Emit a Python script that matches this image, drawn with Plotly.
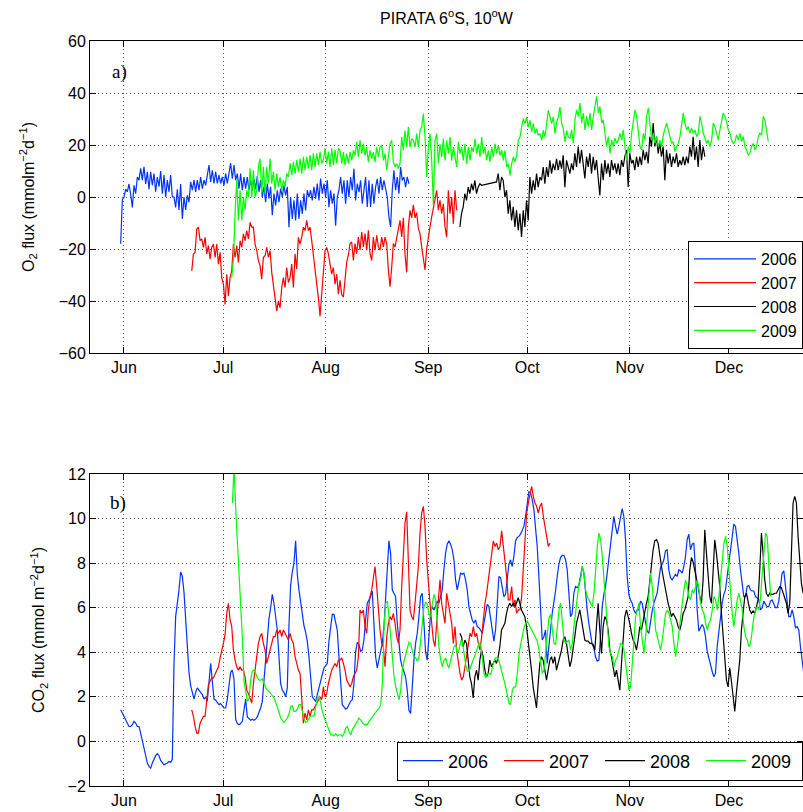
import numpy as np
import pandas as pd
import plotly.graph_objects as go

# ---------------- data ----------------
BASE = "2001-06-01"          # common reference year; only month/day shown
STEP_DAYS = 0.504

years = ["2006", "2007", "2008", "2009"]
colors = ["#0033ff", "#ff0000", "#000000", "#00ff00"]
month_labels = ["Jun", "Jul", "Aug", "Sep", "Oct", "Nov", "Dec"]

# ---- O2 flux (panel a), start = days after 1 Jun ----
o2_2006_start = -1.0
o2_2006 = [-18, -1, 0, 3, 2, 5, 1, -4, 4.5, 1.3, 7.7, 6.5, 11, 6.5, 11.6, 5, 9.7, 3, 9.7, 4.5,
           9, 2, 7.7, 4, 10, 1.3, 8.4, 0, 6.5, 2, 8.4, 0, 0, -4, 3, -5, 5, -8.4, 0, -5,
           0.6, -2, 5.8, 2.6, 6.5, 2, 6.5, 2.6, 7.7, 3.2, 6.5, 4.5, 8.4, 12.3, 5.8, 10.3, 5.2, 9.7, 5.2, 8.4,
           5.2, 7.7, 4.5, 9, 5.2, 9, 13, 7, 12.3, 6.5, 9, 3.2, 9, 2.6, 7.7, 3.2, 7.7, 2.6, 6.5, 2.6,
           7, 3, 8, 2, 6.5, 0, 3.9, -2, 5.2, -0.6, 3.9, -7, 1.3, -3.2, 2.6, -2, 3.2, 0, 4.5, 0.6,
           3.9, -11.6, 0, -8.4, -1.3, -9, 1.3, -8.4, -1.3, -6.5, 1.3, -5.2, 2.6, 0, 2.6, -1.3, 3.9, -0.6, 5.2, -1.3,
           7.1, 1.3, 5.2, 0, 6.5, -3.9, 2.6, -2.6, 1.3, -11, 0,
           2.6, 7.7, 1.3, 6.4, -2.6, 6.4, 0, 7.7, 2.6, 10.9, -1.3, 5.1, 1.9, 6.4, -2.6, 3.8, 7.7, -3.8, 6.4, -3.8,
           5.1, -2.6, 3.8, 7, 1.3, 7.7, 2.6, 6.4, 3.8, 0, -7.7, -11.5, 2.6, 10.3, 2.6, 7.7, 1.3, 11.5, 6.4, 7.7,
           3.8, 7.7, 5.1]

o2_2007_start = 20.5
o2_2007 = [-28.4, -21.9, -21.3, -12.3, -11.6, -16.8, -16.1, -19.4, -15.5, -21.9, -18.7, -23.9, -19.4, -18.1,
           -23.2, -18.1, -25.8, -21.3, -31, -33.5, -41.3, -29.7, -38.1, -31, -28.4, -18.1, -23.2, -18.7, -25.2,
           -16.8, -19.4, -14.2, -16.8, -12.9, -16.1, -9.7, -11.6, -11.6, -18.1, -20.6, -24.5, -26.5, -31.6, -23.2,
           -22.6, -19.4, -23.2, -20.6, -29, -33.5, -38.7, -43.9, -40, -42.6, -34.8, -31, -34.8, -27.1, -32.9, -31,
           -25.8, -34.8, -21.9, -27.7, -15.5, -18.1, -15.5, -11.6, -12.9, -9, -12.9, -11.6, -16.8, -23.2, -28.4,
           -33.5, -38.7, -45.8, -37.4, -27.1, -20.6, -19.4, -21.9, -25.8, -29.7, -27.1, -33.5, -29.7, -37.4,
           -32, -37.5, -38.5, -30, -25, -22.4, -17.9, -17.3, -24.4, -17.9, -21.8, -15.4, -20.5, -13.5, -19.2,
           -14.1, -20.5, -12.8, -21.8, -24.4, -15.4, -20.5, -14.7, -19.2, -20.5, -15.4, -19.2, -15.4, -17.9, -28,
           -34.5, -27, -17.9, -19.2, -15.4, -11.5, -9, -15.4, -8, -22, -29, -11.5, -5.1, -8, -3, -8, -6, -12,
           -14.1, -19.2, -24.4, -28, -20, -15, -11.5, -7.7, -3.8, -1.3, 2.6, -5.1, -1.3, -6.4, -2.6, -11.5, -15.4,
           2.6, -6.4, 0, -10.3, 2.6, -5.1]

o2_2008_a_start = 101.6
o2_2008_a = [-11.5, -6.4, -3.8, 1.3, -1.3, 3.8, 1.3, 5.1, 2.6, 6.4, 1.3, 3.8, 5.1, 4.5]
o2_2008_b_start = 112.7
o2_2008_b = [5.8, 9, 2.6, 7.7, 6.4, 0, 2.6, -6.4, -1.3, -9, -3.8, -11.5, -5.1, -12.8, -6.4, -15.4, -5.1, -11.5,
             -1.3, -9, 7.7, 1.3, 6.4, 2.6, 9, 3.8, 7.7, 6.4, 11.5, 5.1, 11.5, 7.7, 14.1, 9, 12.8, 10.3, 14.7, 10.3,
             14.1, 10.9, 16, 3.8, 14.1, 11.5,
             9, 12.9, 10.3, 16.8, 11.6, 19.4, 12.9, 18.1, 11.6, 7.1, 15.5, 11.6, 16.8, 9, 15.5, 10.3, 14.2, 6.5,
             0.6, 12.9, 6.5, 14.2, 9, 12.9, 7.7, 14.2, 10.3, 12.9, 9, 12.9, 8.4, 14.2, 11.6, 15.5, 18.1, 3.9, 16.8,
             12.9, 14.2, 10.3, 15.5, 11.6, 15.5, 12.3, 18.1, 14.2, 17.4, 12.9, 23.2, 19.4, 28.4, 19.4, 23.2, 16.8,
             20.6, 15.5, 19.4, 6.5, 18.1, 12.9, 16.8, 11.6, 15.5, 12.9, 16.8, 11.6, 14.2, 12.3, 15.5, 12.3, 15.5,
             12.9, 19.4, 15.5, 23.2, 14.2, 19.4, 11.6, 21.9, 14.2, 19.4, 15.5]

o2_2009_start = 32.6
o2_2009 = [-31, -24, -6, 6.5, -9, 2.6, -9, 0, -5, 2.6, 0, 11, 0, 10.3, 0, 2.6, 11.6, 14.8, 1.3, 11.6, 1.3,
           11.6, 5.2, 14.8, 5.2, 9.7, 2.6, 9, 3.9, 7.7, 2.6, 6.5, 3.9, 9, 7.7, 13, 8.4, 13.5, 9, 14.2, 9.7, 14.8,
           9, 15.5, 10.3, 15.5, 11, 16.1, 10.3, 16.8, 11.6, 16.8, 12.3, 17.4, 12.9, 14.2, 18.7, 12.9, 17.4, 11.6,
           18.7, 12.3, 18.1, 12.9, 18.7,
           17.9, 12.8, 17.3, 12.2, 16.7, 12.8, 17.3, 14.1, 17.9, 16, 21.2, 15.4, 21.8, 16.7, 20.5, 16, 19.2, 13.5,
           17.9, 14.7, 17.3, 13.5, 19.2, 15.4, 19.2, 19.9, 14.1, 16.7, 10.3, 15.4, 20.5, 21.8, 13.5, 11.5, 12.8,
           10.9, 12.8, 23.1, 17.9, 25.6, 19.2, 26.9, 19.2, 22.4, 21.8, 19.2, 24.4, 19.2, 25.6, 26.9, 32.1, 23.1,
           7.7, 19.2, 24.4, 14.1, -3.2, 21.8, 24.4, 12.8, 20.5, 15.4, 22.4, 14.1, 21.8, 16.7, 23.1, 14.1, 19.2,
           15.4, 11.5, 21.2, 16.7, 19.2, 14.1, 20.5, 12.8, 19.2, 14.1, 19.2, 17.3, 22.4, 16.7, 20.5, 15.4, 23.1,
           16.7, 19.2, 14.1, 17.9, 13.5, 19.2, 15.4, 20.5, 16.7, 19.9, 16, 17.9, 14.1, 17.9, 11.5, 12.8, 8.3,
           12.8, 15.4, 13.5, 16, 21.8, 23.1, 26.9, 30.1, 28.2, 30.8, 26.9, 29.5, 25, 28.2, 24.4, 26.3, 23.7, 24.4,
           21.8, 25.6, 23.1, 28.2, 33.3, 30.8, 28.2, 30.8, 24.4, 28.8, 30.8, 34.6, 28.2, 26.3, 21.2, 25.6, 23.1,
           22.6, 25.8, 20.6, 29.7, 33.5, 31, 36.1, 28.4, 32.3, 25.8, 31, 27.1, 32.3, 25.8, 31, 34.8, 38.7, 32.3,
           34.8, 28.4, 29.7, 24.5, 19.4, 23.2, 16.8, 21.9, 19.4, 22.6, 20.6, 21.9, 24.5, 21.9, 25.8, 19.4, 14.2,
           19.4, 16.8, 24.5, 29.7, 33.5, 31, 25.8, 19.4, 18.1, 24.5, 21.9, 31, 34.2, 28.4, 21.9, 24.5, 20.6, 23.2,
           19.4, 21.9, 19.4, 23.9, 25.8, 28.4, 25.8, 23.2, 20.6, 21.3, 17.4, 19.4, 20.6, 23.2, 27.1, 32.3, 28.4,
           25.8, 27.1, 24.5, 26.5, 24.5, 25.8, 23.2, 24.5, 31, 28.4, 24.5, 22.6, 20.6, 21.9, 19.4, 21.9, 28.4,
           27.1, 24.5, 21.9, 25.8, 29.7, 32.3, 31, 29, 25.8, 24.5, 21.9, 20.6, 21.3, 23.9, 21.9, 24.5, 21.3, 23.2,
           19.4, 18.1, 16.1, 16.8, 19.4, 20.6, 18.1, 19.4, 23.2, 24.5, 23.9, 31, 29.7, 25.8, 21.3]

# ---- CO2 flux (panel b) ----
co2_2006_start = -1.0
co2_2006 = [1.42, 1.27, 1.12, 0.9, 0.75, 0.67, 0.67, 0.75, 0.9, 0.82, 0.67, 0.67, 0.37, 0, -0.3, -0.67, -0.97,
            -1.12, -1.2, -0.97, -0.8, -0.64, -0.55, -0.64, -0.85, -0.94, -1.05, -1, -0.97, -0.9, -0.94, -0.8, 3.5,
            5.6, 6.1, 6.8, 7.6, 7.4, 6.7, 5.2, 4.3, 3.1, 2.5, 2.2, 1.9, 2.2, 2.4, 2.3, 2.2, 2.1, 1.9, 2, 1.8, 2.6,
            3.5, 2.7, 1.9, 1.85, 1.75, 1.65, 1.7, 1.6, 1.5, 1.5, 1.9, 2.5, 3.1, 3.2, 2.8, 1.0, 0.8, 0.75, 0.8, 0.9,
            1.5, 1.9, 1.1, 1.0, 0.95, 1.0, 0.95, 1.0, 1.1, 1.3, 1.5, 1.8, 2.7, 3.8, 4.4, 5.5, 6.0, 6.6, 6.2, 5.6,
            5.0, 3.8, 2.6, 2.3, 2.2, 2.0, 2.4, 5.2, 7.0, 7.6, 8.0, 9.0, 7.5, 6.8, 6.2, 5.7, 5.2, 4.9, 4.5, 3.8,
            2.7, 2.0, 1.9, 1.8, 2.1, 2.4, 2.7, 3.0, 3.3, 3.4, 3.5, 4.5, 5.2, 5.7, 5.7, 5.4, 5.0,
            3.8, 2.5, 1.65, 1.55, 1.45, 1.5, 1.65, 1.8, 1.87, 2.6, 4, 4.45, 4.35, 4.05, 4.1, 4.55, 5.45, 6.2, 6.35,
            6.5, 6.75, 5.45, 3.8, 3.3, 3.65, 3.9, 4.4, 5.15, 6.65, 7.7, 9.0, 8.45, 6.8, 6.65, 6.5, 5.3, 4.4, 3.65,
            3.35, 3.15, 2.9, 2.3, 1.4, 1.25, 2.5, 3.65, 4.4, 4.85, 5.6, 6.5, 6.65, 5.3, 4, 3.65, 4.7, 5.75, 6.05,
            5.9, 6.05, 6.3, 6.2, 6.5, 6.8, 7.7, 8.45, 8.85, 9, 8.85, 8.6, 8.15, 7.25, 6.8, 7.25, 7.55, 7.5, 7.55,
            7.25, 6.8, 6.05, 5.75, 5.45, 5.3, 5.45, 5.15, 5.1, 5, 4.85, 5.3, 5.75, 6.15, 6.05, 5.6, 5, 4.5, 5, 6.5,
            7.4, 7.35, 6.95, 6.5, 6.6, 7.25, 7.95, 8.15, 7.85, 8.3, 9, 9.15, 9.2, 9.3, 9.45, 9.65, 10.1, 10.7,
            11.2, 11.15, 10.85, 10.4, 9.65, 8.75, 7.4, 5.9, 4.55, 4.7, 5, 3.5, 4.4, 5, 5.75, 6.2, 6.75, 7.4, 7.95,
            8.25, 8.35, 8.35, 8.15, 7.7, 6.5,
            5.6, 5.75, 6.65, 6.95, 6.9, 7, 7.5, 7.85, 7.55, 6.5, 5.9, 5.3, 4.8, 4.35, 4.2, 3.8, 3.6, 3.65, 4.7,
            6.05, 6.6, 6.95, 7.55, 8.15, 8.75, 9.5, 10.1, 9.65, 9.3, 9.65, 10.1, 10.45, 10.1, 9.05, 7.4, 6.6, 6.35,
            6.2, 5.9, 5.75, 5.9, 5.9, 6.3, 6.2, 5.75, 5.3, 4.95, 4.85, 5.45, 5.85, 6.2, 6.45, 6.65, 7.25, 7.8,
            7.95, 8.15, 8.55, 8.6, 7.7, 7.35, 7.25, 7.4, 7.5, 7.4, 7.7, 7.65, 7.55, 7.85, 8.3, 9.05, 9.3, 8.6,
            8.85, 8.9, 7.7, 5.9, 4.95, 5.1, 5.25, 5.1, 4.7, 4.05, 3.75, 3.35, 3.15, 2.9, 3.05, 4.25, 5, 5.6, 6.2,
            6.6, 6.8, 7.4, 8, 8.7, 9.35, 9.75, 9.65, 9.15, 8.45, 7.7, 7.1, 6.5, 6.5, 6.95, 7, 6.8, 6.75, 6.75,
            6.5, 6.45, 6.35, 5.9, 6, 6.3, 6.15, 6.05, 6.05, 6.3, 6.35, 6.15, 6, 6, 6.3, 6.95, 7.55, 7.65, 6.95,
            6.2, 5.6, 5.6, 5.9, 5.6, 5.1, 5.15, 5, 4.25, 3.5, 3.05]

co2_2007_start = 20.5
co2_2007 = [1.42, 1.12, 0.67, 0.37, 0.37, 0.82, 0.97, 1.12, 1.12, 2.0, 2.55, 2.7, 2.85, 2.85, 3, 3.15, 3.35,
            3.75, 4.05, 4.4, 4.8, 5.75, 6.2, 5.45, 5.15, 4.1, 3.65, 3.35, 3.2, 3.35, 3.2, 3.2, 2.9, 2.3, 2.15,
            1.87, 1.72, 2.6, 3.2, 3.8, 4.4, 4.7, 4.85, 4.4, 4.1, 3.5, 3.8, 4.1, 4.4, 4.7, 4.7, 5, 4.85, 5, 4.7, 5,
            4.85, 4.7, 4.55, 4.85, 4.55, 4.4, 3.8, 3.5, 3.2, 3.05, 2, 0.82, 1.27, 0.97, 1.42, 1.12, 1.42, 1.42,
            1.57, 1.72, 1.87, 2, 1.87, 2.45, 2, 2.15, 2.6, 2.9, 3.2, 3.35, 3.5, 3.35, 3.65,
            3.65, 3.75, 3.5, 3.2, 2.75, 2.6, 2.45, 2.6, 2.9, 3.05, 3.2, 3.8, 5.9, 5.75, 5.9, 5.15, 4.85, 5.9, 6.5,
            6.8, 7.4, 7.85, 6.95, 5.9, 5, 4.4, 4.25, 3.35, 4.7, 5.3, 5.6, 5.45, 5.75, 5.3, 4.7, 4.4, 5, 6.95, 8.45,
            9.8, 10.3, 7.7, 5.9, 5.6, 5.45, 6.2, 6.95, 7.85, 9.35, 10.25, 10.55, 9.65, 8.15, 6.95, 6.2, 5.3, 4.55,
            4.25, 5.45, 6.35, 7.25, 6.2, 5.75, 5.3, 6.65, 6.2, 5.75, 5.3, 4.4, 5.15, 4.1, 3.5, 3.05, 2.75, 2.9,
            3.35, 3.8, 4.4, 4.85, 4.7, 5.15, 4.7, 4.85, 4.4, 4.1, 4.7, 5.6, 6.2, 6.65, 7.25, 7.7, 8.3, 9, 8.75,
            8.9, 8.6, 8.75, 9.45, 8.75, 8.3, 7.4, 6.35, 6.35, 6.95, 6.05, 6.35, 5.75, 5.9, 5.9, 6.5, 7.7, 9.2,
            10.25, 10.7, 11.15, 11.45, 11, 10.7, 10.55, 10.25, 10.55, 10.7, 10.1, 9.65, 9.05, 8.75, 8.9]

co2_2008_start = 101.6
co2_2008 = [4.85, 4.7, 4.25, 4.55, 4.4, 3.5, 2.9, 2.6, 1.95, 2.9, 3.2, 2.75, 3.65, 4.1, 3.8, 3.2, 2.9, 3.05,
            3.65, 3.35, 3.5, 3.65, 3.5, 3.8, 4.25, 5, 5.15, 5.3, 5.75, 6.05, 6.2, 6.05, 6.2, 6.05, 6.2, 6.45, 6.2,
            5.9, 5.75, 5.6, 5.15, 4.55, 3.95, 3.2, 2.45, 1.87, 1.5, 2.6, 3.5, 3.8, 3.65, 3.2, 2.75, 3.2, 3.65,
            3.8, 3.5, 3.8, 3.2, 3.5, 3.8, 4.1, 4.55, 4.7, 4.4, 3.8,
            3.35, 3.65, 4.1, 4.7, 5.3, 5.6, 5.9, 5.45, 5, 4.55, 4.5, 4.5, 4.4, 4.4, 4.35, 4.1, 5.15, 6.2, 5, 3.95,
            5.15, 5.6, 5.45, 5, 4.1, 3.8, 3.35, 2.9, 3.2, 2.75, 2.3, 3.5, 4.7, 5.6, 5.9, 5.6, 5.3, 4.85, 4.55,
            4.4, 4.1, 4.55, 5.15, 5, 5.45, 5.9, 6.2, 6.5, 7.25, 8.15, 8.6, 9, 9.05, 8.9, 8.3, 7.85, 7.4, 6.95,
            6.5, 6.2, 5.9, 5.6, 5.75, 5.6, 5.45, 5.15, 5, 5.3, 5.75, 5.9, 6.2, 6.5, 7.7, 8.25, 8.05, 7.7, 7.4,
            6.95, 6.5, 6.2, 7.25, 9.5, 8.45, 7.55, 6.5, 6.2, 7.7, 9.05, 8.45, 7.7, 6.95, 5.75, 4.7, 3.35, 2.75,
            2.45, 3.3, 2.7, 1.9, 1.35, 2.2, 2.9, 3.65, 5, 5.75, 6.5, 6.65, 6.2, 5.9, 5.75, 5.85, 5.75, 6.05, 6.35,
            7.7, 9.35, 8.45, 7.25, 6.65, 6.5, 6.65, 6.6, 6.6, 6.65, 6.65, 6.8, 6.95, 6.9, 6.65, 6.5, 6.2, 5.75,
            6.2, 8.45, 10.7, 11, 10.7, 9.2, 8, 7.1, 6.65]

co2_2009_start = 32.8
co2_2009 = [10.7, 12.3, 10.4, 8.9, 7.9, 6.3, 4.6, 2.7, 2.15, 1.8, 1.9, 2.8, 3.15, 3.2, 3.05, 2.85, 2.75, 2.75,
            2.8, 2.6, 2.4, 2.3, 2.25, 2.15, 2.05, 1.95, 1.75, 1.55, 1.3, 1.05, 0.95, 0.85, 0.95, 1.05, 1.25, 1.55,
            1.6, 1.35, 1.35, 1.45, 1.65, 1.65, 1.35, 1.0, 0.85, 0.9, 1.05, 1.15, 1.15, 1.15, 1.55, 1.95, 2.05,
            1.6, 1.35, 1.1, 0.9, 0.7, 0.45, 0.3, 0.3, 0.25, 0.35, 0.25, 0.3,
            0.3, 0.22, 0.37, 0.6, 0.67, 0.45, 0.3, 0.52, 0.67, 0.75, 0.9, 1.05, 0.95, 0.82, 0.75, 0.75, 0.75, 0.9,
            1, 1.15, 1.22, 1.3, 1.4, 1.48, 1.65, 2.6, 5.15, 6.2, 6.3, 5.6, 4.7, 3.65, 2.9, 2.45, 2.15, 1.87, 2.3,
            3.2, 3.6, 3.95, 4.2, 4.45, 4.4, 4.05, 3.8, 3.75, 3.6, 3.8, 4.55, 5.45, 6.05, 6.25, 6.15, 5.7, 5.6,
            6.2, 6.6, 6.35, 5.15, 4.2, 3.65, 3.35, 3.65, 3.75, 3.45, 3.3, 3.65, 3.95, 4.25, 4.35, 3.95, 4.1, 4.5,
            4.5, 3.95, 3.45, 3.15, 3.15, 3.35, 3.6, 3.75, 3.95, 4.2, 4.4, 4.35, 3.65, 3.05, 2.85, 3.05, 3.05, 3,
            3.3, 3.6, 3.75, 3.75, 3.6, 3.35, 3.05, 2.75, 2.45, 2.15, 1.72, 1.65, 2.3, 2.45, 2.45, 3.05, 3.9,
            4.35, 4.8, 5.1, 5.3, 5.4, 5.25, 5.1, 4.95, 4.8, 4.65, 4.5, 4.1, 3.5, 3.05, 3.2, 3.95, 4.85, 5.55,
            5.7, 5.15, 4.4, 4.35, 5, 5.9, 6.2, 5.3, 4.55, 4.4, 4.5, 4.55,
            4.1, 4.4, 5.15, 5.9, 6.5, 7.1, 7.25, 7.85, 7.55, 6.8, 6.5, 6.35, 6.2, 6.05, 6.65, 7.85, 8.75, 9.35,
            9.05, 8.3, 7.25, 6.2, 5, 4.25, 3.95, 3.8, 3.35, 3.65, 3.8, 4.1, 4.4, 4.35, 4.1, 3.5, 2.9, 2.3, 2.45,
            3.5, 4.4, 5.6, 5.9, 6.2, 5.15, 4.4, 3.95, 4.7, 5.6, 6.8, 7.55, 6.95, 5.9, 5, 4.7, 4.4, 4.1, 4.55,
            5.15, 5.75, 5.9, 5.75, 5.45, 5.15, 4.4, 3.8, 4.25, 5, 5.75, 6.2, 6.8, 7.25, 6.95, 6.5, 6.35, 6.8,
            6.65, 6.95, 7.25, 6.8, 6.2, 5.9, 5.75, 5.3, 5, 5.3, 5.45, 5.9, 6.5, 6.35, 5.9, 6.5, 7.25, 8.3, 8.9,
            9.2, 8.75, 7.7, 6.65, 5.75, 5.15, 5.9, 6.35, 6.65, 6.2, 5.9, 5.15, 4.7, 4.55, 4.25, 4.4, 5, 5.6, 5.9,
            6.05, 5.9, 6.5, 7.55, 8.45, 9.35, 9.2, 8, 6.5]


# ---------------- helpers ----------------
def times(start, n):
    return pd.Timestamp(BASE) + pd.to_timedelta(start + STEP_DAYS * np.arange(n), unit="D")


def series(start, vals):
    return times(start, len(vals)), vals


o2_data = [
    series(o2_2006_start, o2_2006),
    series(o2_2007_start, o2_2007),
    (list(times(o2_2008_a_start, len(o2_2008_a))) + list(times(o2_2008_b_start, len(o2_2008_b))),
     o2_2008_a + o2_2008_b),
    series(o2_2009_start, o2_2009),
]
co2_data = [
    series(co2_2006_start, co2_2006),
    series(co2_2007_start, co2_2007),
    series(co2_2008_start, co2_2008),
    series(co2_2009_start, co2_2009),
]

fig = go.Figure()
for yr, col, (x, y) in zip(years, colors, o2_data):
    fig.add_trace(go.Scatter(x=x, y=y, mode="lines", name=yr, line=dict(color=col, width=1.2),
                             xaxis="x", yaxis="y", legend="legend"))
for yr, col, (x, y) in zip(years, colors, co2_data):
    fig.add_trace(go.Scatter(x=x, y=y, mode="lines", name=yr, line=dict(color=col, width=1.2),
                             xaxis="x2", yaxis="y2", legend="legend2"))

W, H = 803, 812
base = pd.Timestamp(BASE)
xrange_ = [base - pd.Timedelta(days=10.28), base + pd.Timedelta(days=205.4)]
tickvals = [base + pd.DateOffset(months=i) for i in range(len(month_labels))]

FONT = "Liberation Sans, Arial, sans-serif"
axis_common = dict(showline=True, linecolor="black", linewidth=1, mirror="ticks", ticks="inside",
                   ticklen=6, tickcolor="black", showgrid=True, gridcolor="#555", griddash="1px,3px",
                   gridwidth=1, zeroline=False, automargin=False,
                   tickfont=dict(family=FONT, size=16, color="black"))

xax = dict(axis_common, type="date", range=xrange_, tickvals=tickvals, ticktext=month_labels, domain=[0, 1])
fig.update_layout(
    width=W, height=H,
    margin=dict(l=90, r=0, t=0, b=0, autoexpand=False),
    paper_bgcolor="white", plot_bgcolor="white",
    showlegend=True,
    font=dict(family=FONT, color="black"),
    title=dict(text="PIRATA 6<sup>o</sup>S, 10<sup>o</sup>W", x=0.5, xref="paper", xanchor="center",
               y=1 - 18 / H, yref="container", yanchor="middle", automargin=False,
               font=dict(family=FONT, size=16, color="black")),
    xaxis=dict(xax, anchor="y"),
    xaxis2=dict(xax, anchor="y2"),
    yaxis=dict(axis_common, domain=[1 - 353 / H, 1 - 41 / H], range=[-60, 60], tick0=0, dtick=20,
               anchor="x",
               title=dict(text="O<sub>2</sub> flux (mmolm<sup>−2</sup>d<sup>−1</sup>)", standoff=20,
                          font=dict(family=FONT, size=16, color="black"))),
    yaxis2=dict(axis_common, domain=[1 - 786 / H, 1 - 474 / H], range=[-2, 12], tick0=0, dtick=2,
                anchor="x2",
                title=dict(text="CO<sub>2</sub> flux (mmol m<sup>−2</sup>d<sup>−1</sup>)", standoff=18,
                           font=dict(family=FONT, size=16, color="black"))),
    legend=dict(x=1, xanchor="right", xref="paper", y=1 - 295 / H, yanchor="middle", yref="paper",
                bgcolor="white", bordercolor="black", borderwidth=1,
                font=dict(family=FONT, size=16, color="black"), traceorder="normal",
                itemwidth=62),
    legend2=dict(x=1, xanchor="right", xref="paper", y=1 - 761 / H, yanchor="middle", yref="paper",
                 orientation="h", bgcolor="white", bordercolor="black", borderwidth=1,
                 font=dict(family=FONT, size=18, color="black"), traceorder="normal",
                 itemwidth=40, entrywidth=46, entrywidthmode="pixels"),
    annotations=[
        dict(text="a)", xref="x domain", yref="y domain", x=(110 - 90) / 713, y=(353 - 72) / 312,
             xanchor="left", yanchor="middle", showarrow=False,
             font=dict(family="Liberation Serif, Times New Roman, serif", size=19, color="black")),
        dict(text="b)", xref="x2 domain", yref="y2 domain", x=(108 - 90) / 713, y=(786 - 503) / 312,
             xanchor="left", yanchor="middle", showarrow=False,
             font=dict(family="Liberation Serif, Times New Roman, serif", size=19, color="black")),
    ],
    hovermode=False,
)

fig.write_html("out.html", config={"displayModeBar": False})
